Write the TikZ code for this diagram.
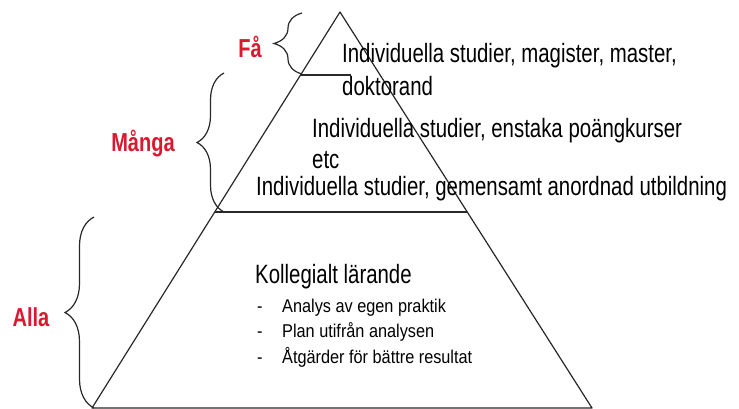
\documentclass[tikz,border=0pt]{standalone}
\usepackage{fontspec}
\setmainfont{Liberation Sans}
\newfontfamily\narrowsf[FakeStretch=0.77]{Liberation Sans}
\newfontfamily\listsf[FakeStretch=0.88]{Liberation Sans}
\usepackage{xcolor}
\usetikzlibrary{decorations.pathreplacing,calc}
\definecolor{levelred}{RGB}{218,24,48}
\definecolor{rimgray}{RGB}{40,40,40}

\begin{document}
\begin{tikzpicture}[x=1pt, y=-1pt,
    rim/.style={draw=rimgray, line width=1.2pt},
    curly/.style={rim, decorate, decoration={brace, amplitude=#1}},
    level/.style={font=\narrowsf\bfseries\fontsize{26}{30}\selectfont,
        text=levelred, inner sep=0pt},
    tier/.style={font=\narrowsf\fontsize{26.5}{33}\selectfont,
        align=left, anchor=base west, inner sep=0pt},
    bullets/.style={font=\listsf\fontsize{18.5}{25.5}\selectfont,
        align=left, anchor=base west, inner sep=0pt},
]
\useasboundingbox (0,0) rectangle (739,408);

% ── Pyramid ──
\coordinate (apex) at (340,12);
\coordinate (baseL) at (92,408);
\coordinate (baseR) at (592,408);
\draw[rim, line join=round] (apex) -- (baseL) -- (baseR) -- cycle;

% ── Tier lines ──
\coordinate (faL) at ($(apex)!0.159!(baseL)$);
\draw[rim] (faL) -- ++(50,0);
\coordinate (mangaL) at ($(apex)!0.505!(baseL)$);
\coordinate (mangaR) at ($(apex)!0.505!(baseR)$);
\draw[rim] (mangaL) -- (mangaR);

% ── Braces and levels ──
\draw[curly=28pt] (302,74) -- (302,13);
\draw[curly=27pt] (224,212) -- (224,73);
\draw[curly=29pt] (94,408) -- (94,217);
\node[level] (fa) at (250,47) {Få};
\node[level] (manga) at (143,144) {Många};
\node[level] (alla) at (31,317) {Alla};

% ── Tier texts (base = last line) ──
\node[tier] (fine) at (342,95)
    {Individuella studier, magister, master,\\doktorand};
\node[tier] (mid) at (312,168)
    {Individuella studier, enstaka poängkurser\\[-2pt]etc};
\node[tier] (broad) at (256,195)
    {Individuella studier, gemensamt anordnad utbildning};
\node[tier] (kollegialt) at (255,283) {Kollegialt lärande};
\node[bullets] (actions) at (257,363)
    {\makebox[25pt][l]{-}Analys av egen praktik\\
     \makebox[25pt][l]{-}Plan utifrån analysen\\
     \makebox[25pt][l]{-}Åtgärder för bättre resultat};

\end{tikzpicture}
\end{document}
